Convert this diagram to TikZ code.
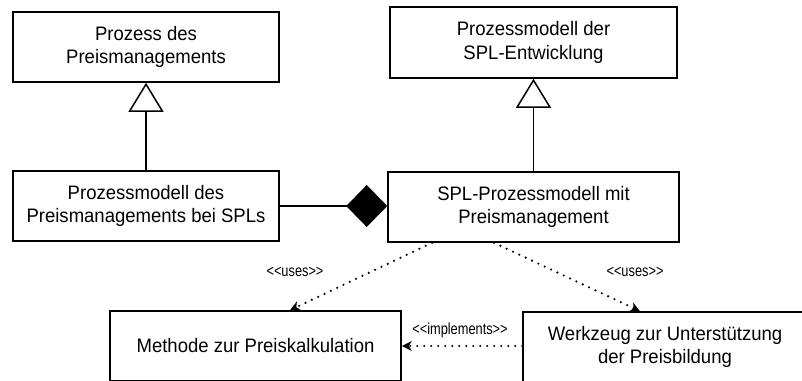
\documentclass[tikz,border=0pt]{standalone}
\usepackage{fontspec}
\setmainfont{Liberation Sans}[FakeStretch=0.95]
\newfontfamily\lblfont{Liberation Sans}[FakeStretch=0.8]
\usetikzlibrary{arrows.meta,calc}

\begin{document}
\begin{tikzpicture}[x=1pt,y=-1pt,
  cls/.style={draw, line width=1.6pt, align=center, inner sep=0pt,
    font=\fontsize{19.5}{23.5}\selectfont},
  gen/.style={line width=1.5pt,
    -{Triangle[open,length=29pt,width=35pt,line width=1.5pt]}},
  comp/.style={line width=1.5pt, -{Diamond[length=41pt,width=42pt]}},
  dep/.style={line width=2.4pt, line cap=round, dash pattern=on 0pt off 7pt,
    -{Stealth[length=10pt,width=10pt,inset=3pt,line width=0pt]}},
  stereo/.style={font=\lblfont\fontsize{16}{18}\selectfont, inner sep=1pt}]
\useasboundingbox (0,0) rectangle (802,380);
\clip (0,0) rectangle (802,380);

% class boxes
\node[cls, minimum width=266pt, minimum height=70pt] (A) at (146,47)
  {Prozess des\\Preismanagements};
\node[cls, minimum width=287pt, minimum height=71pt] (B) at (533.5,42.5)
  {Prozessmodell der\\SPL-Entwicklung};
\node[cls, minimum width=266pt, minimum height=70pt] (C) at (146,206)
  {Prozessmodell des\\Preismanagements bei SPLs};
\node[cls, minimum width=291pt, minimum height=70pt] (D) at (533.5,207)
  {SPL-Prozessmodell mit\\Preismanagement};
\node[cls, minimum width=291pt, minimum height=70pt] (E) at (255.5,346)
  {Methode zur Preiskalkulation};
\node[cls, minimum width=284pt, minimum height=70pt] (F) at (665,347)
  {Werkzeug zur Unterstützung\\der Preisbildung};

% generalisations
\draw[gen] (C.north) -- (A.south);
\draw[gen] (D.north) -- (B.south);

% composition
\draw[comp] (C.east) -- (C.east -| D.west);

% dependencies
\draw[dep] ($(D.south)+(-101.5,0)$) -- ($(E.north)+(34.5,0)$);
\draw[dep] ($(D.south)+(-39.5,0)$) -- ($(F.north)+(-25,0)$);
\draw[dep] (E.east -| F.west) -- (E.east);

% stereotype labels
\node[stereo] (u1) at (295,272) {<\kern0pt<uses>\kern0pt>};
\node[stereo] (u2) at (635,272) {<\kern0pt<uses>\kern0pt>};
\node[stereo] (im) at (460,330) {<\kern0pt<implements>\kern0pt>};
\end{tikzpicture}
\end{document}
